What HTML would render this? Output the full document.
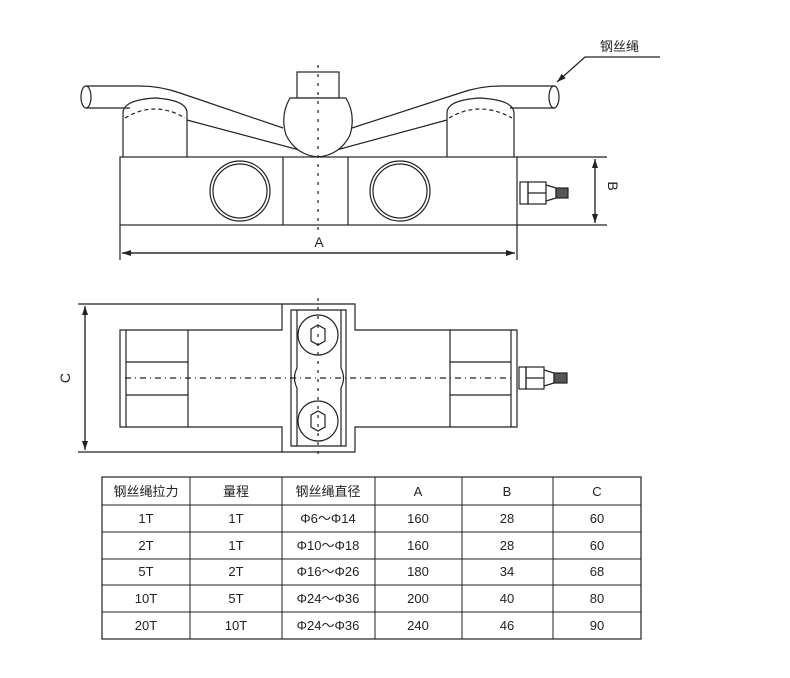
<!DOCTYPE html>
<html><head><meta charset="utf-8"><style>
body{margin:0;background:#fff}
svg{display:block}
text{font-family:"Liberation Sans","Noto Sans CJK SC",sans-serif;fill:#222}
</style></head><body>
<svg width="790" height="678" viewBox="0 0 790 678" xmlns="http://www.w3.org/2000/svg">
<defs><marker id="ar" markerWidth="10" markerHeight="8" refX="9" refY="4" orient="auto" markerUnits="userSpaceOnUse"><path d="M0,1 L9,4 L0,7 Z" fill="#222"/></marker></defs>
<g stroke="#222" stroke-width="1.2" fill="none">
<!-- top view: rope -->
<path d="M86,86 L140,86 Q160,86 180,93 L283,128"/>
<path d="M86,108 L130,108"/>
<ellipse cx="86" cy="97" rx="5" ry="11"/>
<path d="M555,86 L500,86 Q480,86 460,93 L352,128"/>
<path d="M555,108 L510,108"/>
<ellipse cx="554" cy="97" rx="5" ry="11"/>
<path d="M187,120 L318,155 L447,120"/>
<!-- posts -->
<path d="M123,157 L123,113 Q123,100 155,98 Q187,100 187,113 L187,157"/>
<path d="M125,118 Q155,100 185,118" stroke-dasharray="4,3"/>
<path d="M447,157 L447,113 Q447,100 480,98 Q514,100 514,113 L514,157"/>
<path d="M449,118 Q480,100 512,118" stroke-dasharray="4,3"/>
<!-- ball and block -->
<rect x="297" y="72" width="42" height="26" fill="#fff"/>
<path d="M290,98 L346,98 Q356,115 350,135 Q340,155 318,157 Q296,155 286,135 Q280,115 290,98 Z" fill="#fff"/>
<!-- body -->
<rect x="120" y="157" width="397" height="68"/>
<line x1="283" y1="157" x2="283" y2="225"/><line x1="348" y1="157" x2="348" y2="225"/>
<circle cx="240" cy="191" r="30"/><circle cx="240" cy="191" r="27"/>
<circle cx="400" cy="191" r="30"/><circle cx="400" cy="191" r="27"/>
<line x1="318" y1="65" x2="318" y2="232" stroke-dasharray="3,6"/>
<!-- connector -->
<rect x="520" y="182" width="8" height="22"/><rect x="528" y="182" width="18" height="22"/>
<line x1="528" y1="193" x2="546" y2="193"/>
<path d="M546,185 L556,188 L556,198 L546,201"/>
<rect x="556" y="188" width="12" height="10" fill="#555"/>
<!-- dims -->
<line x1="120" y1="225" x2="120" y2="260"/><line x1="517" y1="225" x2="517" y2="260"/>
<line x1="122" y1="253" x2="515" y2="253" marker-end="url(#ar)"/>
<line x1="515" y1="253" x2="122" y2="253" marker-end="url(#ar)"/>
<line x1="517" y1="157" x2="607" y2="157"/><line x1="517" y1="225" x2="607" y2="225"/>
<line x1="595" y1="159" x2="595" y2="223" marker-end="url(#ar)"/>
<line x1="595" y1="223" x2="595" y2="159" marker-end="url(#ar)"/>
<!-- label leader -->
<path d="M660,57 L585,57 L557,82" marker-end="url(#ar)"/>

<!-- plan view -->
<path d="M78,304 L282,304 L282,330 L120,330 L120,427 L282,427 L282,452 L78,452"/>
<path d="M282,304 L355,304 L355,330 L517,330 L517,427 L355,427 L355,452 L282,452"/>
<path d="M291,310 L346,310 L346,446 L291,446 Z"/>
<path d="M297,310 L297,368 Q292,378 297,388 L297,446 M341,310 L341,368 Q346,378 341,388 L341,446"/>
<circle cx="318" cy="335" r="20"/><circle cx="318" cy="421" r="20"/>
<path d="M311,329 L318,325 L325,329 L325,341 L318,345 L311,341 Z"/>
<path d="M311,415 L318,411 L325,415 L325,427 L318,431 L311,427 Z"/>
<line x1="126" y1="330" x2="126" y2="427"/><line x1="188" y1="330" x2="188" y2="427"/>
<line x1="126" y1="362" x2="188" y2="362"/><line x1="126" y1="395" x2="188" y2="395"/>
<line x1="511" y1="330" x2="511" y2="427"/><line x1="450" y1="330" x2="450" y2="427"/>
<line x1="450" y1="362" x2="511" y2="362"/><line x1="450" y1="395" x2="511" y2="395"/>
<line x1="125" y1="378" x2="512" y2="378" stroke-dasharray="6,4,1,4"/>
<line x1="318" y1="298" x2="318" y2="460" stroke-dasharray="3,6"/>
<rect x="519" y="367" width="7" height="22"/><rect x="526" y="367" width="18" height="22"/>
<line x1="526" y1="378" x2="544" y2="378"/>
<path d="M544,370 L554,373 L554,383 L544,386"/>
<rect x="554" y="373" width="13" height="10" fill="#555"/>
<line x1="85" y1="306" x2="85" y2="450" marker-end="url(#ar)"/>
<line x1="85" y1="450" x2="85" y2="306" marker-end="url(#ar)"/>

<!-- table -->
<rect x="102" y="477" width="539" height="162"/>
<g stroke-width="1">
<line x1="190" y1="477" x2="190" y2="639"/><line x1="282" y1="477" x2="282" y2="639"/>
<line x1="375" y1="477" x2="375" y2="639"/><line x1="462" y1="477" x2="462" y2="639"/>
<line x1="553" y1="477" x2="553" y2="639"/>
<line x1="102" y1="505" x2="641" y2="505"/><line x1="102" y1="532" x2="641" y2="532"/>
<line x1="102" y1="559" x2="641" y2="559"/><line x1="102" y1="585" x2="641" y2="585"/>
<line x1="102" y1="612" x2="641" y2="612"/>
</g>
</g>
<text x="600" y="51" font-size="13">钢丝绳</text>
<text x="319" y="247" font-size="14" text-anchor="middle">A</text>
<text x="0" y="0" font-size="14" transform="translate(608,186) rotate(90)" text-anchor="middle">B</text>
<text x="0" y="0" font-size="14" transform="translate(70,378) rotate(-90)" text-anchor="middle">C</text>
<g font-size="13" text-anchor="middle">
<text x="146" y="496">钢丝绳拉力</text><text x="236" y="496">量程</text><text x="328" y="496">钢丝绳直径</text>
<text x="418" y="496">A</text><text x="507" y="496">B</text><text x="597" y="496">C</text>
<text x="146" y="523">1T</text><text x="236" y="523">1T</text><text x="328" y="523">Φ6～Φ14</text><text x="418" y="523">160</text><text x="507" y="523">28</text><text x="597" y="523">60</text>
<text x="146" y="550">2T</text><text x="236" y="550">1T</text><text x="328" y="550">Φ10～Φ18</text><text x="418" y="550">160</text><text x="507" y="550">28</text><text x="597" y="550">60</text>
<text x="146" y="576">5T</text><text x="236" y="576">2T</text><text x="328" y="576">Φ16～Φ26</text><text x="418" y="576">180</text><text x="507" y="576">34</text><text x="597" y="576">68</text>
<text x="146" y="603">10T</text><text x="236" y="603">5T</text><text x="328" y="603">Φ24～Φ36</text><text x="418" y="603">200</text><text x="507" y="603">40</text><text x="597" y="603">80</text>
<text x="146" y="630">20T</text><text x="236" y="630">10T</text><text x="328" y="630">Φ24～Φ36</text><text x="418" y="630">240</text><text x="507" y="630">46</text><text x="597" y="630">90</text>
</g>
</svg>
</body></html>
